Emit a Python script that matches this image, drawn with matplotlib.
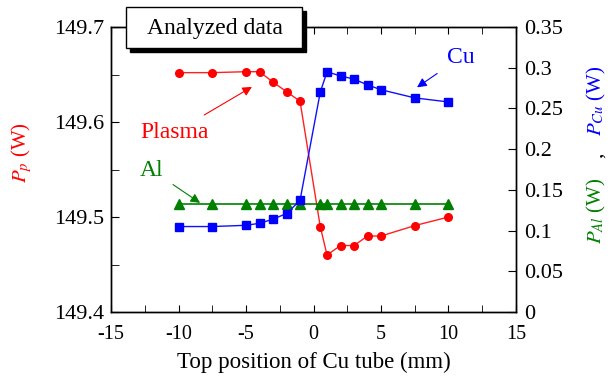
import matplotlib
matplotlib.use("Agg")
import matplotlib.pyplot as plt
from matplotlib.patches import Rectangle

plt.rcParams['font.family'] = ['Liberation Serif', 'DejaVu Serif']
plt.rcParams['mathtext.fontset'] = 'stix'
plt.rcParams['axes.unicode_minus'] = False

# top position of Cu tube (mm)
pos = [-10, -7.5, -5, -4, -3, -2, -1, 0.5, 1, 2, 3, 4, 5, 7.5, 10]
# plasma power (W), left axis
p_plasma = [149.652, 149.652, 149.653, 149.653, 149.642, 149.632, 149.622,
            149.490, 149.460, 149.470, 149.470, 149.480, 149.480, 149.491, 149.500]
# Cu tube power (W), right axis
p_cu = [0.105, 0.105, 0.1065, 0.109, 0.114, 0.121, 0.137,
        0.270, 0.295, 0.290, 0.286, 0.279, 0.273, 0.263, 0.258]
# Al power (W), right axis
p_al = [0.133] * len(pos)

fig = plt.figure(figsize=(6.11, 3.81), dpi=100)
ax = fig.add_axes([0.1817, 0.181, 0.6628, 0.748])
ax2 = ax.twinx()

ax.plot(pos, p_plasma, color='#ff2020', lw=1.0, marker='o', ms=5.5,
        mfc='red', mec='red', zorder=3)
ax2.plot(pos, p_cu, color='#1010ff', lw=1.0, marker='s', ms=5.5,
         mfc='blue', mec='blue', zorder=3)
ax2.plot(pos, p_al, color='#008000', lw=1.2, marker='^', ms=6.5,
         mfc='green', mec='green', zorder=2)

ax.set_xlim(-15, 15)
ax.set_ylim(149.4, 149.7)
ax2.set_ylim(0, 0.35)
ax.set_xticks([-15, -10, -5, 0, 5, 10, 15])
ax.set_xticks([-12.5, -7.5, -2.5, 2.5, 7.5, 12.5], minor=True)
ax.set_yticks([149.4, 149.5, 149.6, 149.7])
ax.set_yticklabels(['149.4', '149.5', '149.6', '149.7'])
ax.set_yticks([149.45, 149.55, 149.65], minor=True)
ax2.set_yticks([0, 0.05, 0.1, 0.15, 0.2, 0.25, 0.3, 0.35])
ax2.set_yticklabels(['0', '0.05', '0.1', '0.15', '0.2', '0.25', '0.3', '0.35'])

ax.tick_params(axis='x', which='both', direction='in', top=True, length=5,
               labelsize=14.5, pad=9)
ax.tick_params(axis='y', which='both', direction='in', length=6,
               labelsize=16, pad=5)
ax2.tick_params(axis='y', which='both', direction='in', length=6,
                labelsize=16, pad=6)
for a in (ax, ax2):
    for s in a.spines.values():
        s.set_linewidth(1.0)

ax.set_xlabel('Top position of Cu tube (mm)', fontsize=16.5, labelpad=6)

# left / right axis labels
fig.text(0.036, 0.60, '$P_p$ (W)', color='red', rotation=90,
         fontsize=15, ha='center', va='center')
fig.text(0.977, 0.446, '$P_{Al}$ (W)', color='green', rotation=90,
         fontsize=15, ha='center', va='center')
fig.text(0.977, 0.593, ',', color='black', rotation=90,
         fontsize=15, ha='center', va='center')
fig.text(0.977, 0.735, '$P_{Cu}$ (W)', color='blue', rotation=90,
         fontsize=15, ha='center', va='center')

# annotations
ax.annotate('Plasma', xy=(-4.56, 149.637), xytext=(-10.3, 149.589),
            color='red', fontsize=17, ha='center', va='center',
            arrowprops=dict(arrowstyle='-|>', color='red', lw=0.8,
                            mutation_scale=14, shrinkA=6, shrinkB=0))
ax2.annotate('Cu', xy=(7.67, 0.276), xytext=(10.9, 0.3127),
             color='blue', fontsize=17, ha='center', va='center',
             arrowprops=dict(arrowstyle='-|>', color='blue', lw=0.8,
                             mutation_scale=14, shrinkA=6, shrinkB=0))
ax2.annotate('Al', xy=(-8.4, 0.134), xytext=(-12.0, 0.1744),
             color='green', fontsize=17, ha='center', va='center',
             arrowprops=dict(arrowstyle='-|>', color='green', lw=0.8,
                             mutation_scale=14, shrinkA=6, shrinkB=0))

# title box with shadow
fig.add_artist(Rectangle((0.213, 0.864), 0.287, 0.108, transform=fig.transFigure,
                         facecolor='black', edgecolor='black', zorder=5))
fig.add_artist(Rectangle((0.207, 0.873), 0.287, 0.108, transform=fig.transFigure,
                         facecolor='white', edgecolor='black', lw=1.0, zorder=6))
fig.text(0.352, 0.925, 'Analyzed data', fontsize=17, ha='center', va='center',
         zorder=7)

fig.savefig('out.png', dpi=100)
